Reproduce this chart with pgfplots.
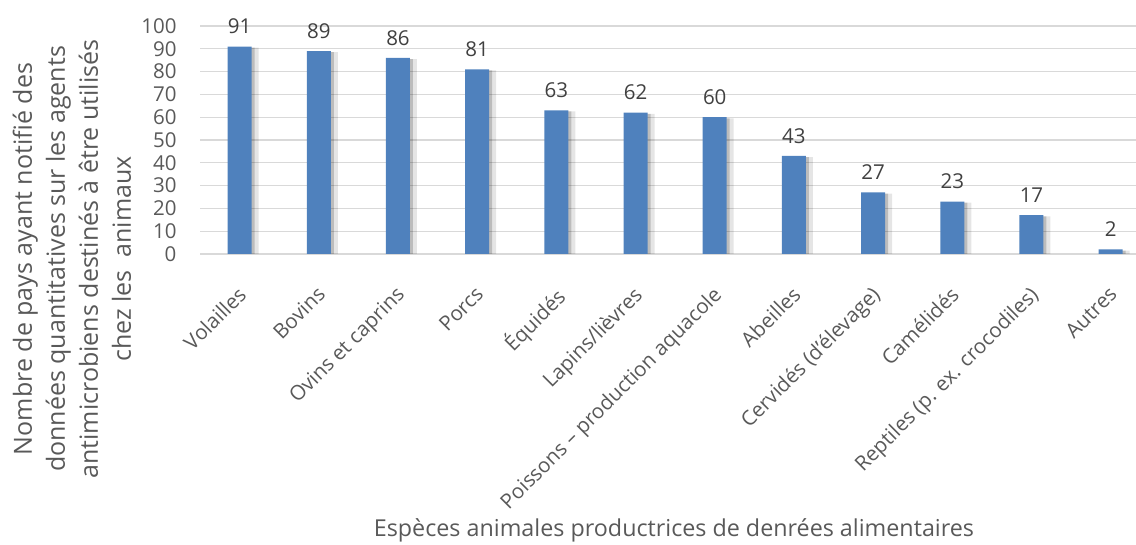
\documentclass[border=0pt]{standalone}
\usepackage{fontspec}
\setmainfont{Open Sans}
\usepackage{pgfplots}
\pgfplotsset{compat=1.18}
\definecolor{barblue}{HTML}{4F81BD}
\definecolor{txtgray}{HTML}{595959}
\definecolor{lblgray}{HTML}{404040}
\definecolor{gridgray}{HTML}{D9D9D9}
\begin{document}
\begin{tikzpicture}
\useasboundingbox (0,0) rectangle (1136pt,545pt);
\begin{axis}[
  at={(200pt,291pt)}, anchor=south west,
  scale only axis, width=936pt, height=228pt,
  xmin=-0.5, xmax=11.32, ymin=0, ymax=100,
  ytick={0,10,...,100},
  xtick={0,...,11},
  xticklabels={Volailles,Bovins,Ovins et caprins,Porcs,Équidés,Lapins/lièvres,Poissons – production aquacole,Abeilles,Cervidés (d’élevage),Camélidés,Reptiles (p. ex. crocodiles),Autres},
  axis line style={draw=none},
  major tick length=0pt,
  ymajorgrids, grid style={gridgray, line width=1.2pt},
  tick label style={font=\fontsize{20.5}{24}\selectfont, text=txtgray},
  /pgf/number format/assume math mode=true,
  yticklabel style={xshift=-20pt},
  xticklabel style={xshift=-3pt, yshift=-31pt, rotate=45, anchor=north east, inner sep=0pt},
  clip=false,
  ybar, bar width=24pt,
]
\addplot[fill=black, draw=none, opacity=0.10, bar shift=5pt, bar width=28pt] coordinates {(0,90.5) (1,88.5) (2,85.5) (3,80.5) (4,62.5) (5,61.5) (6,59.5) (7,42.5) (8,26.5) (9,22.5) (10,16.5) (11,1.5)};
\addplot[fill=black, draw=none, opacity=0.18, bar shift=3pt, bar width=24pt] coordinates {(0,90.5) (1,88.5) (2,85.5) (3,80.5) (4,62.5) (5,61.5) (6,59.5) (7,42.5) (8,26.5) (9,22.5) (10,16.5) (11,1.5)};
\addplot[fill=barblue, draw=none, bar shift=0pt,
  nodes near coords,
  every node near coord/.append style={font=\fontsize{20.5}{24}\selectfont, text=lblgray, anchor=south, yshift=9pt},
  /pgf/number format/assume math mode=true]
  coordinates {(0,91) (1,89) (2,86) (3,81) (4,63) (5,62) (6,60) (7,43) (8,27) (9,23) (10,17) (11,2)};
\end{axis}
\node[rotate=90, align=center, text=txtgray, font=\fontsize{25}{33}\selectfont] at (72pt,286pt)
  {Nombre de pays ayant notifié des\\données quantitatives sur les agents\\antimicrobiens destinés à être utilisés\\chez les~~animaux};
\node[text=txtgray, font=\fontsize{23.3}{27}\selectfont] at (674pt,15pt)
  {Espèces animales productrices de denrées alimentaires};
\end{tikzpicture}
\end{document}
